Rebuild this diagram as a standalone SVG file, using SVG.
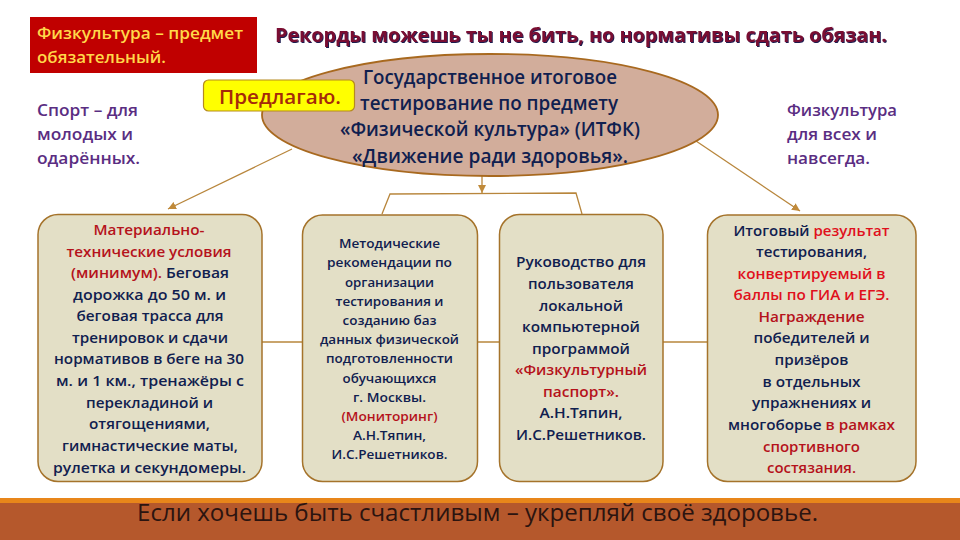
<svg xmlns="http://www.w3.org/2000/svg" width="960" height="540" viewBox="0 0 960 540">
<style>
text{font-family:"Open Sans","Noto Sans",sans-serif;font-weight:600;text-anchor:middle}
.box{fill:#E3DFC6;stroke:#A5732B;stroke-width:1.5}
.con{fill:none;stroke:#B8863C;stroke-width:1.3}
.n{fill:#10204F}.r{fill:#B5121B}.b{fill:#E0101C}
.s1{font-size:15px}.s2{font-size:13px}.s3{font-size:14.5px}
.p{fill:#5A2D82;font-size:17px;text-anchor:start}
.e{fill:#10204F;font-size:19px}
</style>
<defs>
<marker id="a" markerWidth="9" markerHeight="8" refX="8" refY="4" orient="auto" markerUnits="userSpaceOnUse"><path d="M0 0L8 4L0 8Z" fill="#C08A3A"/></marker>
<filter id="sh" x="-5%" y="-30%" width="110%" height="160%"><feDropShadow dx="1" dy="1" stdDeviation="0.6" flood-color="#1B1B50"/></filter>
</defs>
<rect width="960" height="540" fill="#fff"/>
<g id="footer">
<rect y="498" width="960" height="5" fill="#E8861A"/>
<rect y="503" width="960" height="37" fill="#B5582C"/>
<text x="477.500" y="521" font-size="23" textLength="681" lengthAdjust="spacingAndGlyphs" style="font-weight:400" fill="#2B1410">Если хочешь быть счастливым – укрепляй своё здоровье.</text>
</g>
<g id="connectors">
<path class="con" d="M292 149L168 209" marker-end="url(#a)"/>
<path class="con" d="M696 141L800 211" marker-end="url(#a)"/>
<path class="con" d="M482 176V193" marker-end="url(#a)"/>
<path class="con" d="M382 214L390 194L576 193L582 214"/>
<path class="con" d="M262 342H302M477 342H499M663 342H707"/>
</g>
<g id="note-required">
<rect x="30" y="17" width="227" height="56" fill="#C00000"/>
<text x="37" y="39" style="text-anchor:start" font-size="16" fill="#FFD84A" textLength="206" lengthAdjust="spacingAndGlyphs">Физкультура – предмет</text>
<text x="37" y="63" style="text-anchor:start" font-size="16" fill="#FFD84A" textLength="129" lengthAdjust="spacingAndGlyphs">обязательный.</text>
</g>
<g id="headline">
<text x="581" y="42" font-size="20" style="font-weight:700" fill="#7A1030" filter="url(#sh)" textLength="612" lengthAdjust="spacingAndGlyphs">Рекорды можешь ты не бить, но нормативы сдать обязан.</text>
</g>
<g id="note-sport">
<text class="p" x="37" y="116" textLength="101" lengthAdjust="spacingAndGlyphs">Спорт – для</text>
<text class="p" x="37" y="140" textLength="96" lengthAdjust="spacingAndGlyphs">молодых и</text>
<text class="p" x="37" y="164" textLength="103" lengthAdjust="spacingAndGlyphs">одарённых.</text>
</g>
<g id="note-fitness">
<text class="p" x="787" y="116" textLength="110" lengthAdjust="spacingAndGlyphs">Физкультура</text>
<text class="p" x="787" y="140" textLength="90" lengthAdjust="spacingAndGlyphs">для всех и</text>
<text class="p" x="787" y="164" textLength="83" lengthAdjust="spacingAndGlyphs">навсегда.</text>
</g>
<g id="ellipse">
<ellipse cx="490" cy="115" rx="228" ry="61" fill="#D2AD9B" stroke="#A8691F" stroke-width="1.8"/>
<text class="e" x="490" y="84" textLength="254" lengthAdjust="spacingAndGlyphs">Государственное итоговое</text>
<text class="e" x="489" y="110" textLength="258" lengthAdjust="spacingAndGlyphs">тестирование по предмету</text>
<text class="e" x="490" y="136" textLength="300" lengthAdjust="spacingAndGlyphs">«Физической культура» (ИТФК)</text>
<text class="e" x="490" y="163" textLength="276" lengthAdjust="spacingAndGlyphs">«Движение ради здоровья».</text>
</g>
<g id="offer">
<rect x="203.500" y="80" width="151" height="31" rx="5" fill="#FFFF00" stroke="#B58A1E" stroke-width="1.2"/>
<text x="280" y="104" font-size="19" fill="#A52A0A" textLength="122" lengthAdjust="spacingAndGlyphs">Предлагаю.</text>
</g>
<g id="node-1">
<rect class="box" x="38" y="214.500" width="224" height="267" rx="20"/>
<g class="s1 n">
<text x="149" y="235" class="r" textLength="111" lengthAdjust="spacingAndGlyphs">Материально-</text>
<text x="149" y="257" class="r" textLength="165" lengthAdjust="spacingAndGlyphs">технические условия</text>
<text x="150" y="278" textLength="158" lengthAdjust="spacingAndGlyphs"><tspan class="r">(минимум).</tspan> Беговая</text>
<text x="149.500" y="300" textLength="153" lengthAdjust="spacingAndGlyphs">дорожка до 50 м. и</text>
<text x="150" y="321" textLength="147" lengthAdjust="spacingAndGlyphs">беговая трасса для</text>
<text x="150" y="343" textLength="156" lengthAdjust="spacingAndGlyphs">тренировок и сдачи</text>
<text x="149" y="364" textLength="190" lengthAdjust="spacingAndGlyphs">нормативов в беге на 30</text>
<text x="150" y="386" textLength="188" lengthAdjust="spacingAndGlyphs">м. и 1 км., тренажёры с</text>
<text x="149.500" y="408" textLength="127" lengthAdjust="spacingAndGlyphs">перекладиной и</text>
<text x="149.500" y="429" textLength="121" lengthAdjust="spacingAndGlyphs">отягощениями,</text>
<text x="150" y="451" textLength="176" lengthAdjust="spacingAndGlyphs">гимнастические маты,</text>
<text x="149.500" y="473" textLength="193" lengthAdjust="spacingAndGlyphs">рулетка и секундомеры.</text>
</g>
</g>
<g id="node-2">
<rect class="box" x="302.500" y="215" width="175" height="266.500" rx="20"/>
<g class="s2 n">
<text x="389.500" y="248" textLength="101" lengthAdjust="spacingAndGlyphs">Методические</text>
<text x="389.500" y="267" textLength="125" lengthAdjust="spacingAndGlyphs">рекомендации по</text>
<text x="389.500" y="287" textLength="89" lengthAdjust="spacingAndGlyphs">организации</text>
<text x="389.500" y="306" textLength="108" lengthAdjust="spacingAndGlyphs">тестирования и</text>
<text x="389.500" y="325" textLength="94" lengthAdjust="spacingAndGlyphs">созданию баз</text>
<text x="389.500" y="344" textLength="139" lengthAdjust="spacingAndGlyphs">данных физической</text>
<text x="389.500" y="363" textLength="127" lengthAdjust="spacingAndGlyphs">подготовленности</text>
<text x="389.500" y="383" textLength="94" lengthAdjust="spacingAndGlyphs">обучающихся</text>
<text x="389.500" y="402" textLength="73" lengthAdjust="spacingAndGlyphs">г. Москвы.</text>
<text x="389.500" y="421" class="r" textLength="96" lengthAdjust="spacingAndGlyphs">(Мониторинг)</text>
<text x="389.500" y="440" textLength="73" lengthAdjust="spacingAndGlyphs">А.Н.Тяпин,</text>
<text x="389.500" y="459" textLength="116" lengthAdjust="spacingAndGlyphs">И.С.Решетников.</text>
</g>
</g>
<g id="node-3">
<rect class="box" x="499.500" y="214.500" width="163.500" height="267" rx="20"/>
<g class="s3 n">
<text x="581" y="267" textLength="130" lengthAdjust="spacingAndGlyphs">Руководство для</text>
<text x="581" y="289" textLength="106" lengthAdjust="spacingAndGlyphs">пользователя</text>
<text x="581" y="311" textLength="84" lengthAdjust="spacingAndGlyphs">локальной</text>
<text x="581" y="332" textLength="118" lengthAdjust="spacingAndGlyphs">компьютерной</text>
<text x="581" y="354" textLength="98" lengthAdjust="spacingAndGlyphs">программой</text>
<text x="581" y="375" class="r" textLength="132" lengthAdjust="spacingAndGlyphs">«Физкультурный</text>
<text x="581" y="397" class="r" textLength="76" lengthAdjust="spacingAndGlyphs">паспорт».</text>
<text x="581" y="418" textLength="83" lengthAdjust="spacingAndGlyphs">А.Н.Тяпин,</text>
<text x="581" y="440" textLength="130" lengthAdjust="spacingAndGlyphs">И.С.Решетников.</text>
</g>
</g>
<g id="node-4">
<rect class="box" x="707.500" y="215" width="208.500" height="266.500" rx="20"/>
<g class="s1 n">
<text x="811.500" y="236" textLength="156" lengthAdjust="spacingAndGlyphs">Итоговый <tspan class="b">результат</tspan></text>
<text x="811.500" y="257" textLength="111" lengthAdjust="spacingAndGlyphs">тестирования,</text>
<text x="811.500" y="279" class="b" textLength="148" lengthAdjust="spacingAndGlyphs">конвертируемый в</text>
<text x="811.500" y="300" class="b" textLength="156" lengthAdjust="spacingAndGlyphs">баллы по ГИА и ЕГЭ.</text>
<text x="811.500" y="322" class="r" textLength="106" lengthAdjust="spacingAndGlyphs">Награждение</text>
<text x="811.500" y="343" textLength="116" lengthAdjust="spacingAndGlyphs">победителей и</text>
<text x="811.500" y="365" textLength="74" lengthAdjust="spacingAndGlyphs">призёров</text>
<text x="811.500" y="387" textLength="98" lengthAdjust="spacingAndGlyphs">в отдельных</text>
<text x="811.500" y="408" textLength="119" lengthAdjust="spacingAndGlyphs">упражнениях и</text>
<text x="811.500" y="430" textLength="167" lengthAdjust="spacingAndGlyphs">многоборье <tspan class="r">в рамках</tspan></text>
<text x="811.500" y="452" class="r" textLength="97" lengthAdjust="spacingAndGlyphs">спортивного</text>
<text x="811.500" y="473" class="r" textLength="89" lengthAdjust="spacingAndGlyphs">состязания.</text>
</g>
</g>
</svg>
